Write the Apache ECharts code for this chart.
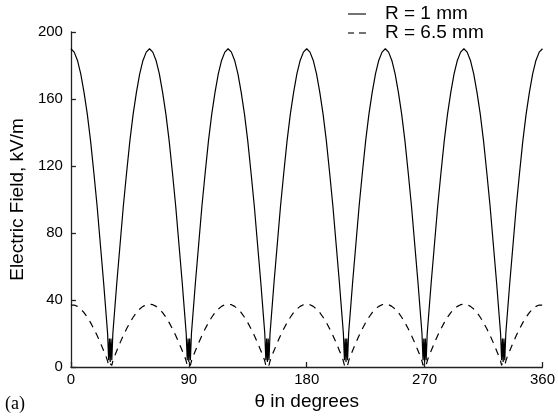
<!DOCTYPE html>
<html><head><meta charset="utf-8">
<script src="https://cdn.jsdelivr.net/npm/echarts@6/dist/echarts.min.js"></script>
<style>html,body{margin:0;padding:0;background:#fff}#c{width:558px;height:418px}</style>
</head><body><div id="c"></div>
<script>
var thetaDeg = [
  0,2.5,5,7.5,10,12.5,15,17.5,20,22.5,25,26,27,28,28.8,29.4,30,30.6,31.2,32,33,34,35,37.5,40,42.5,45,47.5,50,52.5,55,57.5,
  60,62.5,65,67.5,70,72.5,75,77.5,80,82.5,85,86,87,88,88.8,89.4,90,90.6,91.2,92,93,94,95,97.5,100,102.5,105,107.5,110,112.5,115,117.5,
  120,122.5,125,127.5,130,132.5,135,137.5,140,142.5,145,146,147,148,148.8,149.4,150,150.6,151.2,152,153,154,155,157.5,160,162.5,165,167.5,170,172.5,175,177.5,
  180,182.5,185,187.5,190,192.5,195,197.5,200,202.5,205,206,207,208,208.8,209.4,210,210.6,211.2,212,213,214,215,217.5,220,222.5,225,227.5,230,232.5,235,237.5,
  240,242.5,245,247.5,250,252.5,255,257.5,260,262.5,265,266,267,268,268.8,269.4,270,270.6,271.2,272,273,274,275,277.5,280,282.5,285,287.5,290,292.5,295,297.5,
  300,302.5,305,307.5,310,312.5,315,317.5,320,322.5,325,326,327,328,328.8,329.4,330,330.6,331.2,332,333,334,335,337.5,340,342.5,345,347.5,350,352.5,355,357.5,
  360
];
var fieldR1 = [
  190,188,183,175,164,151,135,116,96,73,50,40,30,20,4,17,3,17,4,20,30,40,50,73,96,116,135,151,164,175,183,188,
  190,188,183,175,164,151,135,116,96,73,50,40,30,20,4,17,3,17,4,20,30,40,50,73,96,116,135,151,164,175,183,188,
  190,188,183,175,164,151,135,116,96,73,50,40,30,20,4,17,3,17,4,20,30,40,50,73,96,116,135,151,164,175,183,188,
  190,188,183,175,164,151,135,116,96,73,50,40,30,20,4,17,3,17,4,20,30,40,50,73,96,116,135,151,164,175,183,188,
  190,188,183,175,164,151,135,116,96,73,50,40,30,20,4,17,3,17,4,20,30,40,50,73,96,116,135,151,164,175,183,188,
  190,188,183,175,164,151,135,116,96,73,50,40,30,20,4,17,3,17,4,20,30,40,50,73,96,116,135,151,164,175,183,188,
  190
];
var fieldR65 = [
  37,37,36.2,34.6,32.5,29.7,26.5,22.8,18.8,14.4,9.7,7.8,5.9,3.5,1,2.5,3.5,2.5,1,3.5,5.9,7.8,9.7,14.4,18.8,22.8,26.5,29.7,32.5,34.6,36.2,37.2,
  37.5,37.2,36.2,34.6,32.5,29.7,26.5,22.8,18.8,14.4,9.7,7.8,5.9,3.5,1,2.5,3.5,2.5,1,3.5,5.9,7.8,9.7,14.4,18.8,22.8,26.5,29.7,32.5,34.6,36.2,37.2,
  37.5,37.2,36.2,34.6,32.5,29.7,26.5,22.8,18.8,14.4,9.7,7.8,5.9,3.5,1,2.5,3.5,2.5,1,3.5,5.9,7.8,9.7,14.4,18.8,22.8,26.5,29.7,32.5,34.6,36.2,37.2,
  37.5,37.2,36.2,34.6,32.5,29.7,26.5,22.8,18.8,14.4,9.7,7.8,5.9,3.5,1,2.5,3.5,2.5,1,3.5,5.9,7.8,9.7,14.4,18.8,22.8,26.5,29.7,32.5,34.6,36.2,37.2,
  37.5,37.2,36.2,34.6,32.5,29.7,26.5,22.8,18.8,14.4,9.7,7.8,5.9,3.5,1,2.5,3.5,2.5,1,3.5,5.9,7.8,9.7,14.4,18.8,22.8,26.5,29.7,32.5,34.6,36.2,37.2,
  37.5,37.2,36.2,34.6,32.5,29.7,26.5,22.8,18.8,14.4,9.7,7.8,5.9,3.5,1,2.5,3.5,2.5,1,3.5,5.9,7.8,9.7,14.4,18.8,22.8,26.5,29.7,32.5,34.6,36.2,37,
  37
];
var seriesNames = ['R = 1 mm', 'R = 6.5 mm'];
var xTicks = [0, 90, 180, 270, 360];
var yTicks = [0, 40, 80, 120, 160, 200];

function pairs(xs, ys){ return xs.map(function(x,i){ return [x, ys[i]]; }); }

var FF = 'Liberation Sans';
var chart = echarts.init(document.getElementById('c'), null, {renderer:'canvas'});
chart.setOption({
  animation: false,
  backgroundColor: '#fff',
  grid: {left: 69, right: 13, top: 32, bottom: 51},
  xAxis: {
    type: 'value', min: 0, max: 360, interval: 90,
    name: 'θ in degrees', nameLocation: 'middle', nameGap: 25,
    nameTextStyle: {fontFamily: FF, fontSize: 19, color: '#000'},
    axisLine: {lineStyle: {color: '#222', width: 1.3}},
    axisTick: {inside: true, length: 5, lineStyle: {color: '#222', width: 1.3}},
    axisLabel: {fontFamily: FF, fontSize: 15, color: '#000', margin: 5,
      formatter: function(v){ return xTicks.indexOf(v) >= 0 ? String(v) : ''; }},
    splitLine: {show: false}
  },
  yAxis: {
    type: 'value', min: 0, max: 200, interval: 40,
    name: 'Electric Field, kV/m', nameLocation: 'middle', nameGap: 38, nameRotate: 90,
    nameTextStyle: {fontFamily: FF, fontSize: 19, color: '#000'},
    axisLine: {show: true, lineStyle: {color: '#222', width: 1.3}},
    axisTick: {show: true, inside: true, length: 5, lineStyle: {color: '#222', width: 1.3}},
    axisLabel: {fontFamily: FF, fontSize: 15, color: '#000', margin: 8,
      formatter: function(v){ return yTicks.indexOf(v) >= 0 ? String(v) : ''; }},
    splitLine: {show: false}
  },
  series: [
    {name: seriesNames[0], type: 'line', data: pairs(thetaDeg, fieldR1), showSymbol: false,
     lineStyle: {color: '#000', width: 1.2}},
    {name: seriesNames[1], type: 'line', data: pairs(thetaDeg, fieldR65), showSymbol: false,
     lineStyle: {color: '#000', width: 1.2, type: [7, 6]}}
  ],
  graphic: [
    {type: 'line', shape: {x1: 348, y1: 14, x2: 366, y2: 14}, style: {stroke: '#000', lineWidth: 1.1}},
    {type: 'text', x: 385, y: 14, style: {text: seriesNames[0], fontFamily: FF, fontSize: 19, fill: '#000', verticalAlign: 'middle'}},
    {type: 'line', shape: {x1: 348, y1: 33, x2: 354, y2: 33}, style: {stroke: '#000', lineWidth: 1.1}},
    {type: 'line', shape: {x1: 359, y1: 33, x2: 366, y2: 33}, style: {stroke: '#000', lineWidth: 1.1}},
    {type: 'text', x: 385, y: 33, style: {text: seriesNames[1], fontFamily: FF, fontSize: 19, fill: '#000', verticalAlign: 'middle'}},
    {type: 'text', x: 5, y: 404, style: {text: '(a)', fontFamily: 'Liberation Serif', fontSize: 18, fill: '#000', verticalAlign: 'middle'}}
  ]
});
</script></body></html>
